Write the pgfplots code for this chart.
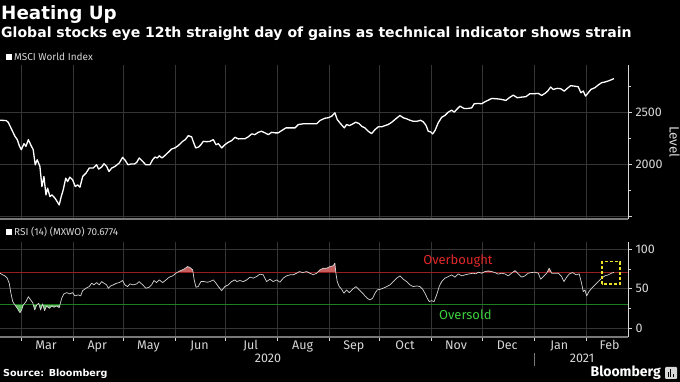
\documentclass[border=0pt]{standalone}
\usepackage{pgfplots}
\usepackage{pgfplotstable}
\pgfplotsset{compat=1.18}
\usepackage{fontspec}
\setmainfont{Fira Sans}
\newfontfamily\titlefont{DejaVu Sans}
\definecolor{gridc}{RGB}{52,52,52}
\definecolor{axisgray}{RGB}{120,120,120}
\definecolor{ticklbl}{RGB}{215,215,215}
\definecolor{obline}{RGB}{150,30,30}
\definecolor{osline}{RGB}{30,125,30}
\definecolor{obfill}{RGB}{200,95,95}
\definecolor{osfill}{RGB}{95,185,95}
\definecolor{obtext}{RGB}{225,40,40}
\definecolor{ostext}{RGB}{60,205,60}
\definecolor{boxc}{RGB}{235,225,40}

\pgfplotstableread{
day level
-12.5 2428
-8.9 2426
-7.6 2409
-5.5 2338
-3.6 2274
-2.2 2242
-1.0 2184
0.2 2145
1.8 2203
3.0 2177
4.4 2242
5.8 2193
7.3 2145
8.5 2000
9.7 2048
11.3 1984
12.5 1790
13.7 1887
14.9 1710
15.9 1775
17.3 1693
18.5 1710
20.3 1678
21.6 1645
22.8 1613
24.0 1693
25.2 1758
26.7 1871
27.8 1838
29.2 1881
30.8 1855
32.4 1790
33.8 1807
35.2 1784
36.8 1887
38.8 1920
40.7 1968
43.1 1968
45.1 2000
46.3 1958
48.1 1978
49.5 2010
51.1 1984
52.5 1935
54.1 1968
56.1 1984
58.6 2016
60.6 2071
62.2 2042
63.8 2000
65.6 2007
67.6 2007
69.0 2022
70.5 2065
72.6 2032
74.4 2000
76.9 2000
78.5 2048
79.9 2074
81.3 2065
82.5 2087
84.1 2065
85.7 2087
87.8 2119
89.9 2152
91.8 2162
93.8 2184
96.4 2225
98.0 2242
99.8 2280
101.8 2268
102.7 2225
104.2 2162
106.0 2171
107.3 2193
108.7 2225
110.7 2222
112.7 2225
114.7 2242
116.3 2193
117.7 2203
119.7 2162
121.6 2193
123.6 2216
125.6 2232
127.6 2264
129.6 2249
131.6 2251
133.6 2251
135.5 2268
137.6 2297
139.5 2290
141.5 2312
143.5 2322
145.5 2307
147.5 2290
149.5 2312
151.5 2307
153.4 2307
155.5 2329
158.0 2355
160.4 2355
163.4 2355
165.4 2387
168.3 2394
171.3 2394
174.3 2394
176.3 2394
178.3 2426
181.3 2448
183.2 2452
185.3 2467
187.2 2500
188.6 2435
190.2 2403
191.6 2377
192.8 2355
194.2 2387
195.8 2377
197.2 2387
199.6 2409
201.6 2397
203.2 2370
205.1 2355
207.1 2322
209.1 2300
211.1 2338
213.1 2365
215.1 2365
217.1 2377
219.0 2387
221.1 2409
223.0 2435
226.0 2474
228.0 2452
230.0 2442
232.0 2428
233.9 2419
236.3 2419
238.3 2428
239.9 2413
241.5 2380
242.9 2322
244.3 2316
245.5 2297
246.9 2329
248.8 2403
250.9 2457
252.8 2474
254.8 2506
256.8 2525
258.4 2506
259.8 2532
261.8 2564
264.2 2542
266.7 2542
268.8 2548
270.3 2587
272.7 2590
274.7 2587
276.7 2606
278.7 2622
280.7 2638
283.7 2635
286.6 2629
289.2 2619
291.2 2645
293.6 2670
295.9 2645
298.6 2651
301.1 2655
303.5 2684
306.5 2684
308.5 2687
310.5 2667
312.5 2687
314.1 2709
315.9 2748
317.4 2725
319.8 2735
321.8 2732
324.0 2709
325.8 2735
327.8 2761
329.8 2757
332.3 2751
333.9 2693
335.3 2709
336.7 2661
338.3 2693
339.9 2725
342.3 2742
344.2 2767
346.3 2790
348.2 2796
350.2 2806
352.2 2819
353.6 2829
}\levelTable

\pgfplotstableread{
day rsi
-12.5 69.6
-10.9 67.5
-9.5 66.2
-8.2 63.3
-7.0 57
-6.0 44.3
-4.9 33.7
-3.6 29.5
-2.2 25.3
-0.6 19.7
0.4 23.2
1.4 29.5
3.0 33.7
4.4 40
5.8 35.8
7.0 32.4
8.2 23.2
9.4 29.5
10.6 31.6
11.7 23.2
12.9 30.8
14.1 22.3
15.3 28.2
16.9 25.3
18.3 28.2
19.7 26.6
21.3 28.2
22.8 26.1
24.3 38
25.6 43.4
27.3 45.1
29.2 43.4
30.8 45.1
32.2 40.9
34.2 42.2
35.6 40.9
36.8 47.6
38.8 50.6
40.7 52.7
42.2 57
43.5 54.8
45.1 57.7
46.7 54.8
48.1 59
49.5 57
51.1 54.8
52.1 50.6
53.5 53.5
55.0 54.8
57.1 57
58.6 57.7
60.6 60.3
62.0 54.8
63.6 52.7
65.0 56.1
67.0 54.8
69.0 56.1
70.5 59
72.6 54.8
74.5 50.6
76.5 51.9
77.9 54.8
79.3 60.3
80.9 57.7
82.5 61.1
84.5 57.7
86.5 61.1
88.4 64.6
90.5 66.2
92.4 69.6
94.8 72.5
97.2 74.7
99.4 78
100.8 76.7
102.4 73.8
103.3 61.1
104.4 51.9
105.7 52.7
107.3 59
109.1 59
111.1 58.2
112.7 59
114.7 61.1
116.3 57
117.7 52.7
119.7 47.6
121.6 52.7
123.6 54.8
125.6 59
127.6 61.1
128.6 59
130.6 60.3
132.6 59
134.6 61.1
136.6 64.6
138.5 63.3
140.5 65.3
142.5 68.4
144.5 67.5
146.5 59
148.5 62
150.4 59
152.5 61.1
154.4 58.2
156.4 63.3
158.4 66.2
160.4 67.5
162.4 67.5
164.4 69.6
166.0 71.6
168.0 70.4
170.4 71.6
172.3 69.6
174.3 67.5
176.3 69.6
178.3 73.8
180.3 75.9
182.3 75.9
184.3 78
186.2 78.9
187.2 82.3
187.8 69.6
188.6 59
189.8 52.7
191.2 49.4
192.6 44.3
194.2 48.5
195.8 45.1
197.8 49.4
199.8 52.7
201.7 48.5
203.8 44.3
205.1 40.9
206.5 38
208.1 35.8
209.7 38
211.1 44.3
212.5 48.5
214.5 49.4
216.0 50.6
218.1 52.7
220.0 54.8
222.0 59
224.0 63.3
226.0 66.2
228.0 62
230.0 59
232.0 54.8
233.9 52.7
236.0 53.5
237.9 52.7
239.5 49.4
240.9 44.3
242.3 38
243.5 33.7
244.9 34.9
246.3 33.7
247.9 42.2
249.4 52.7
250.9 59
252.8 63.3
254.8 65.3
256.8 67.5
258.8 64.6
260.8 68.7
262.8 66.2
264.8 67.5
267.3 68.7
269.7 69.6
271.3 68.7
272.7 70.9
274.7 69.6
276.7 71.6
278.7 72.5
280.7 71.6
282.7 70.4
284.6 68.4
286.6 69.6
288.6 68.7
290.6 66.2
292.6 69.6
294.6 72.9
296.5 68.7
298.6 64.6
300.5 66.2
302.5 69.6
304.5 70.4
306.5 70.9
308.5 69.6
309.9 62
311.5 65.3
313.5 69.6
315.0 75.9
316.5 69.6
318.4 69.6
320.4 69.6
322.4 65.3
323.8 59
325.4 64.6
327.0 68.7
329.0 70.4
331.0 67.5
332.9 68.7
334.3 57
335.3 46.3
336.3 48.5
337.3 40.9
338.7 46.3
340.3 50.6
342.3 54.8
344.2 59
346.3 63.3
348.2 66.2
350.2 67.5
352.2 69.6
353.6 70.7
}\rsiTable

\begin{document}
\begin{tikzpicture}[x=1pt,y=1pt]
\useasboundingbox (0,0) rectangle (680,382);
\fill[black] (0,0) rectangle (680,382);

% titles
\node[anchor=base west, inner sep=0pt, text=white, font=\titlefont\fontsize{18.3}{18}\selectfont\bfseries] at (1,362) {Heating Up};
\node[anchor=base west, inner sep=0pt, text=white, font=\titlefont\fontsize{14.05}{14}\selectfont\bfseries] at (1,344) {Global stocks eye 12th straight day of gains as technical indicator shows strain};
\fill[white] (6,322) rectangle (12,328);
\node[anchor=west, inner sep=0pt, text=ticklbl, font=\fontsize{10}{10}\selectfont] at (14,325) {MSCI World Index};
\fill[white] (6,147) rectangle (12,153);
\node[anchor=west, inner sep=0pt, text=ticklbl, font=\fontsize{10}{10}\selectfont] at (14,150) {RSI (14) (MXWO) 70.6774};

% top panel
\begin{axis}[
  at={(0pt,163pt)}, anchor=south west, scale only axis,
  width=628pt, height=154pt,
  xmin=-12.5, xmax=362, ymin=1478, ymax=2960,
  axis x line=bottom, axis y line=right, axis line style={-},
  x axis line style={draw=axisgray, line width=1.6pt},
  y axis line style={draw=ticklbl, line width=0.8pt},
  xtick={0,31,61,92,122,153,184,214,245,275,306,337}, xticklabels={},
  x tick style={draw=none},
  xmajorgrids, ymajorgrids, major grid style={gridc, line width=0.8pt},
  ytick={1500,2000,2500}, yticklabels={,2000,2500},
  minor ytick={1750,2250,2750},
  y tick style={ticklbl, line width=0.8pt},
  tick align=outside, major tick length=4pt, minor tick length=3pt,
  yticklabel style={font=\fontsize{12.5}{12.5}\selectfont, text=ticklbl},
  ylabel={Level}, ylabel style={rotate=180, font=\fontsize{13.5}{13.5}\selectfont, text=ticklbl},
]
\addplot[white, line width=1.3pt, line join=round] table[x=day,y=level] {\levelTable};
\end{axis}

% bottom panel
\begin{axis}[
  at={(0pt,45pt)}, anchor=south west, scale only axis,
  width=628pt, height=95pt,
  xmin=-12.5, xmax=362, ymin=-11, ymax=109,
  axis x line=bottom, axis y line=right, axis line style={-},
  x axis line style={draw=axisgray, line width=1.6pt},
  y axis line style={draw=ticklbl, line width=0.8pt},
  xtick={0,31,61,92,122,153,184,214,245,275,306,337}, xticklabels={},
  x tick style={ticklbl, line width=0.8pt},
  extra x ticks={15,45.5,76,106.5,137,168,198.5,229,259.5,290,321,351},
  extra x tick labels={Mar,Apr,May,Jun,Jul,Aug,Sep,Oct,Nov,Dec,Jan,Feb},
  extra x tick style={grid=none, major tick length=0pt},
  xticklabel style={font=\fontsize{12.5}{12.5}\selectfont, text=ticklbl},
  xmajorgrids, ymajorgrids, major grid style={gridc, line width=0.8pt},
  ytick={0,50,100}, yticklabels={0,50,100},
  minor ytick={25,75},
  y tick style={ticklbl, line width=0.8pt},
  tick align=outside, major tick length=4pt, minor tick length=3pt,
  yticklabel style={font=\fontsize{12.5}{12.5}\selectfont, text=ticklbl},
]
\begin{scope}
\clip (axis cs:-13,70) rectangle (axis cs:363,120);
\addplot[fill=obfill, draw=none] table[x=day,y=rsi] {\rsiTable} \closedcycle;
\end{scope}
\begin{scope}
\clip (axis cs:-13,-20) rectangle (axis cs:363,30);
\addplot[fill=osfill, draw=none] table[x=day,y=rsi] {\rsiTable} -- (axis cs:353.6,120) -- (axis cs:-12.5,120) -- cycle;
\end{scope}
\addplot[obline, line width=1pt] coordinates {(-12.5,70) (362,70)};
\addplot[osline, line width=1pt] coordinates {(-12.5,30) (362,30)};
\addplot[ticklbl, line width=0.7pt, line join=round] table[x=day,y=rsi] {\rsiTable};
\node[text=obtext, font=\fontsize{13}{13}\selectfont] at (axis cs:260.6,85.4) {Overbought};
\node[text=ostext, font=\fontsize{13}{13}\selectfont] at (axis cs:265,17) {Oversold};
\draw[boxc, line width=1.3pt, dash pattern=on 3pt off 2pt] (axis cs:346.5,56) rectangle (axis cs:357.2,84);
\end{axis}

% years
\node[text=ticklbl, font=\fontsize{12.5}{12.5}\selectfont] at (268,24) {2020};
\node[text=ticklbl, font=\fontsize{12.5}{12.5}\selectfont] at (582,24) {2021};
\draw[axisgray, line width=0.8pt] (534.5,16) -- (534.5,29);

% footer
\node[anchor=base west, inner sep=0pt, text=white, font=\titlefont\fontsize{9.6}{10}\selectfont\bfseries] at (3,5.5) {Source: Bloomberg};
\node[anchor=east, inner sep=0pt, text=white, font=\fontsize{14}{14}\selectfont\bfseries] at (661,9) {Bloomberg};
\fill[ticklbl, rounded corners=1pt] (665,3) rectangle (677,15);
\fill[black] (667.5,5) rectangle (668.7,10);
\fill[black] (670,5) rectangle (671.2,13);
\fill[black] (672.5,5) rectangle (673.7,8);
\end{tikzpicture}
\end{document}
